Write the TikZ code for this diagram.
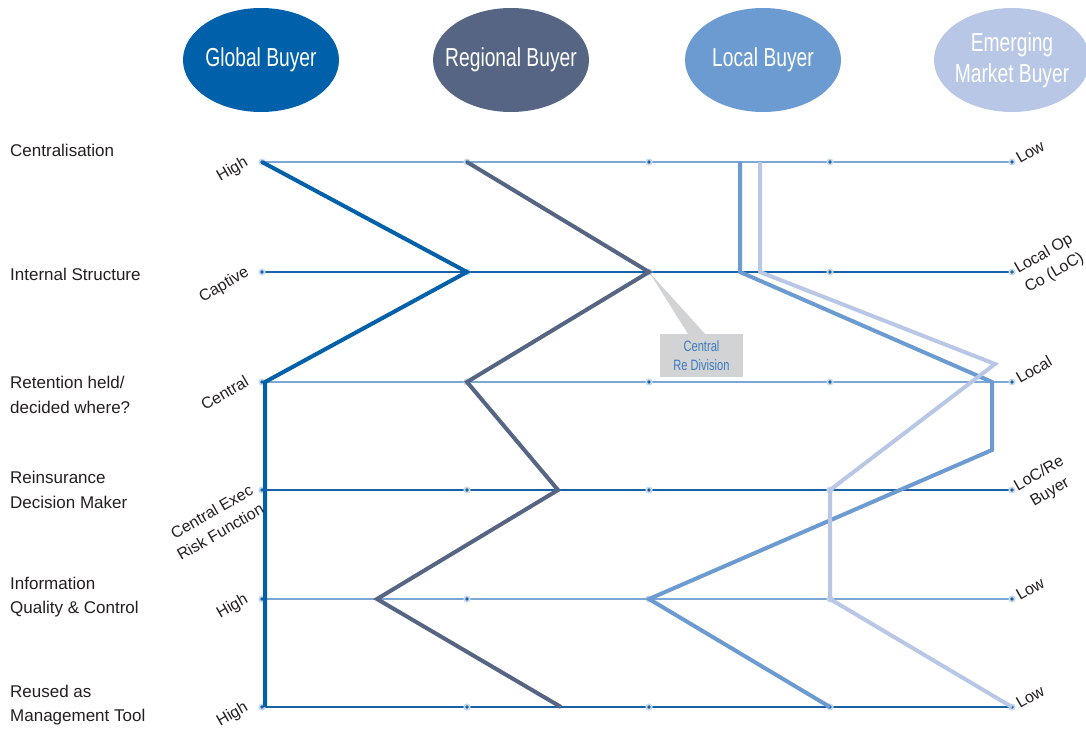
\documentclass[tikz,border=0pt]{standalone}
\usepackage{fontspec}
\setmainfont{Liberation Sans}
\newfontfamily\lblfont{Liberation Sans}
\newfontfamily\condfont[FakeStretch=0.74]{Liberation Sans}
\usetikzlibrary{shapes.geometric}
\definecolor{cGlobal}{HTML}{0060A9}
\definecolor{cRegional}{HTML}{556583}
\definecolor{cLocal}{HTML}{6C9BD2}
\definecolor{cEmerging}{HTML}{B9C7E6}
\definecolor{cRowLight}{HTML}{7BA7D6}
\definecolor{cRowDark}{HTML}{1761A9}
\definecolor{cHalo}{HTML}{C9DAEE}
\definecolor{cCallout}{HTML}{D1D3D4}
\definecolor{cCallText}{HTML}{3B7CC0}
\definecolor{cText}{HTML}{231F20}
\begin{document}
\begin{tikzpicture}[x=1pt,y=-1pt,
  buyer/.style={ellipse, minimum width=156pt, minimum height=104pt, inner sep=0pt},
  buyertext/.style={inner sep=0pt, text=white, align=center,
    font=\condfont\fontsize{26}{31}\selectfont},
  rowlabel/.style={anchor=west, align=left, inner sep=0pt, text=cText,
    font=\lblfont\fontsize{17}{24.5}\selectfont},
  leftval/.style={anchor=base east, rotate=30, inner sep=0pt, text=cText,
    font=\lblfont\fontsize{16}{21.5}\selectfont},
  rightval/.style={anchor=base west, rotate=30, inner sep=0pt, text=cText,
    font=\lblfont\fontsize{16}{21.5}\selectfont},
  rowlight/.style={draw=cRowLight, line width=2pt},
  rowdark/.style={draw=cRowDark, line width=1.3pt},
  profile/.style={line width=4pt, miter limit=10},
  calloutbox/.style={rectangle, fill=cCallout, minimum width=83pt, minimum height=43pt,
    inner sep=0pt, align=center, text=cCallText,
    font=\condfont\fontsize{15}{19.5}\selectfont}
]
\useasboundingbox (0,0) rectangle (1086,730);

% grid coordinates
\foreach \c/\x in {1/262,2/467,3/649,4/830,5/1012}
  \foreach \r/\y in {1/162,2/272,3/382,4/490,5/599,6/707}
    \coordinate (p-\c-\r) at (\x,\y);

% extra profile points
\coordinate (g3) at (265,382);
\coordinate (g6) at (265,707);
\coordinate (r4) at (558,490);
\coordinate (r5) at (377,599);
\coordinate (r6) at (561,707);
\coordinate (l1) at (740,162);
\coordinate (l2) at (740,272);
\coordinate (l3) at (992,382);
\coordinate (l4) at (992,450);
\coordinate (e1) at (760,162);
\coordinate (e2) at (760,272);
\coordinate (e3) at (995,364);

% header ellipses
\node[buyer, fill=cGlobal] (global) at (261,60) {};
\node[buyertext] (globalt) at (global.center) {Global Buyer};
\node[buyer, fill=cRegional] (regional) at (511,60) {};
\node[buyertext] (regionalt) at (regional.center) {Regional Buyer};
\node[buyer, fill=cLocal] (local) at (763,60) {};
\node[buyertext] (localt) at (local.center) {Local Buyer};
\node[buyer, fill=cEmerging] (emerging) at (1012,60) {};
\node[buyertext] (emergingt) at (emerging.center) {Emerging\\Market Buyer};

% row labels
\node[rowlabel] (lab1) at (10,150) {Centralisation};
\node[rowlabel] (lab2) at (10,274) {Internal Structure};
\node[rowlabel] (lab3) at (10,395) {Retention held/\\decided where?};
\node[rowlabel] (lab4) at (10,490) {Reinsurance\\Decision Maker};
\node[rowlabel] (lab5) at (10,597) {Information\\Quality \& Control};
\node[rowlabel] (lab6) at (10,705) {Reused as\\Management Tool};

% horizontal rows
\draw[rowlight] (p-1-1) -- (p-5-1);
\draw[rowdark]  (p-1-2) -- (p-5-2);
\draw[rowlight] (p-1-3) -- (p-5-3);
\draw[rowdark]  (p-1-4) -- (p-5-4);
\draw[rowlight] (p-1-5) -- (p-5-5);
\draw[rowdark]  (p-1-6) -- (p-5-6);

% dots
\foreach \c in {1,...,5}
  \foreach \r in {1,...,6} {
    \fill[cHalo] (p-\c-\r) circle (3.6pt);
    \fill[cRowDark] (p-\c-\r) circle (1.8pt);
  }

% callout
\node[calloutbox] (callout) at (701.5,355.5) {Central\\Re Division};
\fill[cCallout] (p-3-2) -- ([xshift=-13.5pt]callout.north) -- ([xshift=3.5pt]callout.north) -- cycle;

% profiles
\draw[profile, draw=cGlobal] (p-1-1) -- (p-2-2) -- (g3) -- (g6);
\draw[profile, draw=cRegional] (p-2-1) -- (p-3-2) -- (p-2-3) -- (r4) -- (r5) -- (r6);
\draw[profile, draw=cLocal] (l1) -- (l2) -- (l3) -- (l4) -- (p-3-5) -- (p-4-6);
\draw[profile, draw=cEmerging] (e1) -- (e2) -- (e3) -- (p-4-4) -- (p-4-5) -- (p-5-6);

% left value labels
\node[leftval] (v11) at (249,165) {High};
\node[leftval] (v12) at (250,275) {Captive};
\node[leftval] (v13) at (250,385) {Central};
\node[leftval, anchor=east, align=right] (v14) at (257,498) {Central Exec\\Risk Function};
\node[leftval] (v15) at (249,602) {High};
\node[leftval] (v16) at (249,710) {High};

% right value labels
\node[rightval] (v51) at (1020,164) {Low};
\node[rightval, anchor=west, align=center] (v52) at (1021,280) {Local Op\\Co (LoC)};
\node[rightval] (v53) at (1020,384) {Local};
\node[rightval, anchor=west, align=center] (v54) at (1021,497) {LoC/Re\\Buyer};
\node[rightval] (v55) at (1020,601) {Low};
\node[rightval] (v56) at (1020,709) {Low};
\end{tikzpicture}
\end{document}
